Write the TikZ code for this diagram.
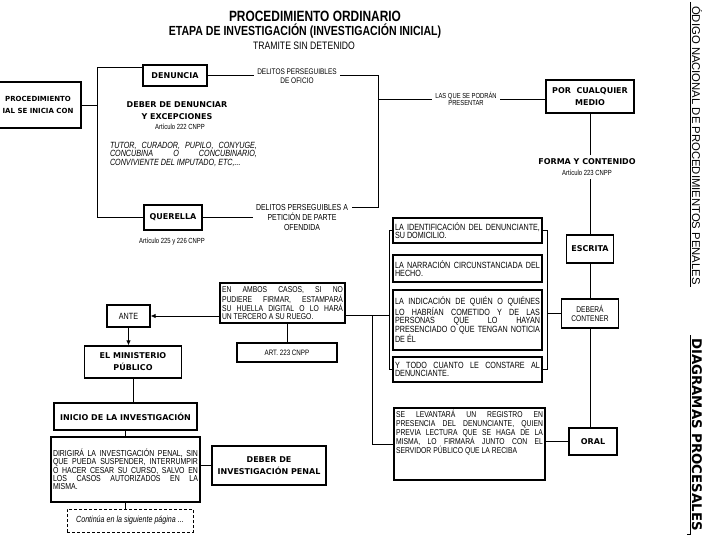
\documentclass[tikz,border=0pt]{standalone}
\usepackage{fontspec}
\setmainfont{Liberation Sans}
\newfontfamily\nar{Liberation Sans}[FakeStretch=0.8]
\newfontfamily\dvs{DejaVu Sans}
\usetikzlibrary{arrows.meta}

\begin{document}
\begin{tikzpicture}[x=1pt, y=-1pt,
  box/.style={draw, line width=1.2pt, inner sep=2pt, align=center},
  lbl/.style={font=\dvs\bfseries\fontsize{8}{12}\selectfont},
  txt/.style={font=\nar\fontsize{9}{8.4}\selectfont},
  jbox/.style={box, txt, align=justify, text width=#1},
  conn/.style={line width=0.8pt},
  arr/.style={conn, -{Latex[length=5pt, width=4.5pt]}},
  rule/.style={line width=0.6pt}]
  \useasboundingbox[fill=white] (0,0) rectangle (720,540);

  % titulo
  \node[font=\nar\bfseries\fontsize{14.9}{16}\selectfont] (ttl1) at (315,16.5) {PROCEDIMIENTO ORDINARIO};
  \node[font=\nar\bfseries\fontsize{13.2}{14}\selectfont] (ttl2) at (305,31.5) {ETAPA DE INVESTIGACIÓN (INVESTIGACIÓN INICIAL)};
  \node[font=\nar\fontsize{10.8}{12}\selectfont] (ttl3) at (304,45.5) {TRAMITE SIN DETENIDO};

  % inicio del procedimiento
  \node[box, font=\dvs\bfseries\fontsize{7}{12}\selectfont, minimum width=86pt, minimum height=46pt] (proc) at (38,105) {PROCEDIMIENTO\\IAL SE INICIA CON};
  \node[box, lbl, minimum width=64pt, minimum height=21pt] (den) at (175,75.5) {DENUNCIA};
  \node[box, lbl, minimum width=58pt, minimum height=25pt] (que) at (173,217.5) {QUERELLA};
  \node[lbl, align=center] (deber) at (177,111) {DEBER DE DENUNCIAR\\Y EXCEPCIONES};
  \node[font=\nar\fontsize{7.4}{8}\selectfont] (a222) at (180,127) {Artículo 222 CNPP};
  \node[font=\nar\itshape\fontsize{9}{8.5}\selectfont, align=justify, text width=147pt, inner sep=0pt] (exc) at (183.5,154) {TUTOR, CURADOR, PUPILO, CONYUGE,\linebreak CONCUBINA O CONCUBINARIO,\linebreak CONVIVIENTE DEL IMPUTADO, ETC,...};
  \node[font=\nar\fontsize{7.4}{8}\selectfont] (a225) at (172,242) {Artículo 225 y 226 CNPP};
  \node[font=\nar\fontsize{8.1}{8.5}\selectfont, align=center] (ofi) at (297,76) {DELITOS PERSEGUIBLES\\DE OFICIO};
  \node[font=\nar\fontsize{8.7}{10}\selectfont, align=center] (pet) at (302,217.5) {DELITOS PERSEGUIBLES A\\PETICIÓN DE PARTE\\OFENDIDA};
  \node[font=\nar\fontsize{7.3}{7.5}\selectfont, align=center] (pres) at (466,99) {LAS QUE SE PODRÁN\\PRESENTAR};

  \coordinate (spine) at (97,0);
  \coordinate (rbb) at (378,207);
  \draw[conn] (proc.east) -- (proc.east -| spine);
  \draw[conn] ([yshift=-3pt]den.north west) -| (spine |- que.west) -- (que.west);
  \draw[conn] (den.east) -- (den.east -| ofi.west);
  \draw[conn] (que.east) -- (que.east -| pet.west);
  \draw[conn] (den.east -| ofi.east) -| (rbb) -- (rbb -| pet.east);
  \draw[conn] (rbb |- pres.west) -- (pres.west);

  % forma y contenido
  \node[box, lbl, minimum width=88pt, minimum height=33pt] (cual) at (590,96.5) {POR~~CUALQUIER\\MEDIO};
  \node[lbl] (forma) at (587,162) {FORMA Y CONTENIDO};
  \node[font=\nar\fontsize{7.4}{8}\selectfont] (a223) at (587,173) {Artículo 223 CNPP};
  \node[box, lbl, minimum width=47pt, minimum height=28pt] (esc) at (590,249) {ESCRITA};
  \node[box, font=\nar\fontsize{8.3}{9}\selectfont, minimum width=57pt, minimum height=29pt] (deb) at (590,313.5) {DEBERÁ\\CONTENER};
  \node[box, lbl, minimum width=48pt, minimum height=27pt] (oral) at (593,441.5) {ORAL};
  \draw[conn] (pres.east) -- (pres.east -| cual.west);
  \draw[conn] (cual.south) -- (cual.south |- forma.north);
  \draw[conn] (cual.south |- a223.south) -- (esc.north);
  \draw[conn] (esc.south) -- (esc.south |- deb.north);
  \draw[conn] (deb.south) -- (deb.south |- oral.north);

  % requisitos de la denuncia
  \node[jbox=145pt, minimum height=25pt] (idn) at (467.5,230.5) {LA IDENTIFICACIÓN DEL DENUNCIANTE,\linebreak SU DOMICILIO.};
  \node[jbox=145pt, minimum height=27pt] (nar) at (467.5,268.5) {LA NARRACIÓN CIRCUNSTANCIADA DEL\linebreak HECHO.};
  \node[jbox=145pt, minimum height=60pt] (ind) at (467.5,320) {LA INDICACIÓN DE QUIÉN O QUIÉNES\linebreak LO HABRÍAN COMETIDO Y DE LAS\linebreak PERSONAS QUE LO HAYAN\linebreak PRESENCIADO O QUE TENGAN NOTICIA\linebreak DE ÉL};
  \node[jbox=145pt, minimum height=25pt] (tod) at (467.5,369.5) {Y TODO CUANTO LE CONSTARE AL\linebreak DENUNCIANTE.};
  \node[box, font=\nar\fontsize{8.5}{9}\selectfont] (reg) at (469.5,444) {\parbox[t][68pt][t]{147pt}{SE LEVANTARÁ UN REGISTRO EN\linebreak PRESENCIA DEL DENUNCIANTE, QUIEN\linebreak PREVIA LECTURA QUE SE HAGA DE LA\linebreak MISMA, LO FIRMARÁ JUNTO CON EL\linebreak SERVIDOR PÚBLICO QUE LA RECIBA}};

  \coordinate (jn) at (372,315);
  \coordinate (brL) at (389,0);
  \coordinate (brR) at (547,0);
  \draw[conn] (idn.west) -| (brL |- tod.west) -- (tod.west);
  \draw[conn] (idn.east) -| (brR |- tod.east) -- (tod.east);
  \draw[conn] (deb.west) -- (deb.west -| brR);
  \draw[conn] (oral.west) -- (oral.west -| reg.east);

  % firma y ministerio publico
  \node[jbox=121pt, font=\nar\fontsize{8.5}{7.6}\selectfont, minimum height=40pt] (amb) at (282.5,303) {EN AMBOS CASOS, SI NO\linebreak PUDIERE FIRMAR, ESTAMPARÁ\linebreak SU HUELLA DIGITAL O LO HARÁ\linebreak UN TERCERO A SU RUEGO.};
  \node[box, font=\nar\fontsize{7.8}{8}\selectfont, minimum width=100pt, minimum height=19pt] (art) at (287,352.5) {ART. 223 CNPP};
  \node[box, font=\nar\fontsize{9}{9}\selectfont, minimum width=43pt, minimum height=22pt] (ante) at (128.5,316) {ANTE};
  \node[box, lbl, minimum width=97pt, minimum height=32pt] (mp) at (133,362) {EL MINISTERIO\\PÚBLICO};
  \node[box, lbl, minimum width=143pt, minimum height=27pt] (ini) at (125.5,416.5) {INICIO DE LA INVESTIGACIÓN};
  \node[jbox=145pt, font=\nar\fontsize{8.7}{8.3}\selectfont, minimum height=65pt] (dir) at (125.5,469.5) {DIRIGIRÁ LA INVESTIGACIÓN PENAL, SIN\linebreak QUE PUEDA SUSPENDER, INTERRUMPIR\linebreak O HACER CESAR SU CURSO, SALVO EN\linebreak LOS CASOS AUTORIZADOS EN LA\linebreak MISMA.};
  \node[box, lbl, minimum width=114pt, minimum height=39pt] (dinv) at (269,465.5) {DEBER DE\\INVESTIGACIÓN PENAL};
  \node[box, line width=0.8pt, dash pattern=on 3pt off 2pt, font=\nar\itshape\fontsize{8.9}{9}\selectfont, minimum width=126pt, minimum height=23pt] (cont) at (130,520.5) {Continúa en la siguiente página ...};

  \draw[conn] (amb.east |- jn) -- (jn -| brL);
  \draw[conn] (jn) |- (reg.west);
  \draw[conn] (art.north |- amb.south) -- (art.north);
  \draw[arr] (amb.west |- ante.east) -- (ante.east);
  \draw[arr] (ante.south) -- (ante.south |- mp.north);
  \draw[conn] (mp.south) -- (mp.south |- ini.north);
  \draw[conn] (ini.south) -- (ini.south |- dir.north);
  \draw[conn] (dir.east |- dinv.west) -- (dinv.west);
  \draw[conn] (dir.south) -- (dir.south |- cont.north);

  % margen
  \node[font=\fontsize{11.3}{13}\selectfont, rotate=-90, anchor=base west, inner sep=0pt] (cnpp) at (692,6) {ÓDIGO NACIONAL DE PROCEDIMIENTOS PENALES};
  \node[font=\dvs\bfseries\fontsize{13.3}{15}\selectfont, rotate=-90, anchor=base west, inner sep=0pt] (diag) at (692,338) {DIAGRAMAS PROCESALES};
  \draw[rule] (690,2) -- ([xshift=-2pt, yshift=-2pt]cnpp.base east);
  \draw[rule] ([xshift=-2pt, yshift=3pt]diag.base west) -- ([xshift=-2pt, yshift=-3pt]diag.base east) -- ++(-3,0);
\end{tikzpicture}
\end{document}
